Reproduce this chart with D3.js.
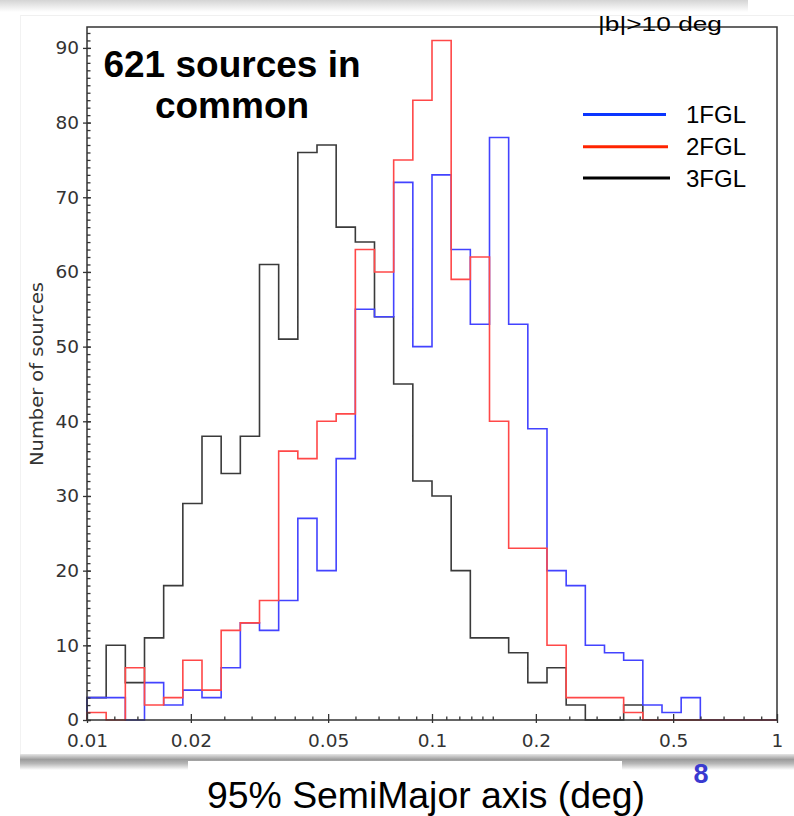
<!DOCTYPE html>
<html><head><meta charset="utf-8">
<script src="https://cdn.jsdelivr.net/npm/d3@7"></script>
<style>body{margin:0;background:#fff}svg{display:block}</style>
</head><body>
<svg id="c" width="794" height="816"></svg>
<script>
// ---- data ----
const seriesNames = ["1FGL", "2FGL", "3FGL"];
const fgl1 = [3,3,0,5,2,4,3,7,13,12, 16,27,20,35,55,54,72,50,73,63, 53,78,53,39,20,18,10,9,8,2, 1,3,0,0,0,0];
const fgl2 = [1,0,7,2,3,8,4,12,13,16, 36,35,40,41,63,60,75,83,91,59, 62,40,23,23,10,3,3,3,1,0, 0,0,0,0,0,0];
const fgl3 = [3,10,5,11,18,29,38,33,38,61, 51,76,77,66,64,54,45,32,30,20, 11,11,9,5,7,2,0,0,2,0, 0,0,0,0,0,0];
const xMajorTicks = [0.01, 0.02, 0.05, 0.1, 0.2, 0.5, 1];
const xTickLabels = ["0.01", "0.02", "0.05", "0.1", "0.2", "0.5", "1"];
const xMinorTicks = [0.012,0.014,0.025,0.03,0.035,0.04,0.045,0.06,0.07,0.08,0.09,0.11,0.12,0.13,0.14,0.15,0.25,0.3,0.35,0.4,0.45,0.6,0.7,0.8,0.9];
const yMajorTicks = [0,10,20,30,40,50,60,70,80,90];
const yTickLabels = ["0","10","20","30","40","50","60","70","80","90"];
const binsPerDecade = 18;
const xDomain = [0.01, 1];
const yMax = 92.8;
const titleLines = ["621 sources in", "common"];
const cutLabel = "|b|>10 deg";
const xTitle = "95% SemiMajor axis (deg)";
const yTitle = "Number of sources";
const pageNum = "8";

// ---- layout ----
const svg = d3.select("#c");
const L = 87, R = 777, T = 27, B = 720;
const x = d3.scaleLog().domain(xDomain).range([L, R]);
const y = d3.scaleLinear().domain([0, yMax]).range([B, T]);
const nb = Math.round(Math.log10(xDomain[1] / xDomain[0]) * binsPerDecade);
const edges = d3.range(nb + 1).map(i => xDomain[0] * Math.pow(10, i / binsPerDecade));

const defs = svg.append("defs");
const g1 = defs.append("linearGradient").attr("id","topsh").attr("x1",0).attr("y1",0).attr("x2",0).attr("y2",1);
g1.append("stop").attr("offset","0%").attr("stop-color","#d4d4d4");
g1.append("stop").attr("offset","100%").attr("stop-color","#ffffff");
const g2 = defs.append("linearGradient").attr("id","botsh").attr("x1",0).attr("y1",0).attr("x2",0).attr("y2",1);
g2.append("stop").attr("offset","0%").attr("stop-color","#e6e6e6");
g2.append("stop").attr("offset","35%").attr("stop-color","#9c9c9c");
g2.append("stop").attr("offset","60%").attr("stop-color","#b8b8b8");
g2.append("stop").attr("offset","100%").attr("stop-color","#ffffff");

// decorative slide shadows
svg.append("rect").attr("x",0).attr("y",0).attr("width",748).attr("height",12).attr("fill","url(#topsh)");
svg.append("line").attr("x1",20).attr("x2",794).attr("y1",15.5).attr("y2",15.5).attr("stroke","#f0f0f0");
svg.append("line").attr("x1",20.5).attr("x2",20.5).attr("y1",15).attr("y2",758).attr("stroke","#f2f2f2");
svg.append("rect").attr("x",20).attr("y",754).attr("width",774).attr("height",16).attr("fill","url(#botsh)");
svg.append("rect").attr("x",188).attr("y",761).attr("width",434).attr("height",55).attr("fill","#fff");

// ---- histograms ----
const line = d3.line().x(d => x(d[0])).y(d => y(d[1])).curve(d3.curveStepAfter);
function pts(vals) {
  const p = [[edges[0], 0]];
  vals.forEach((v, i) => p.push([edges[i], v]));
  p.push([edges[nb], vals[nb - 1]]);
  p.push([edges[nb], 0]);
  return p;
}
const plot = svg.append("g");
const series = [
  {name: seriesNames[2], vals: fgl3, color: "#3a3a3a"},
  {name: seriesNames[0], vals: fgl1, color: "#4343ff"},
  {name: seriesNames[1], vals: fgl2, color: "#ff4848"}
];
series.forEach(s => {
  plot.append("path").attr("d", line(pts(s.vals))).attr("fill","none")
    .attr("stroke", s.color).attr("stroke-width", 1.6);
});

// ---- axes ----
const axCol = "#333";
function styleAxis(g){ g.select(".domain").remove(); g.selectAll("line").attr("stroke", axCol).attr("stroke-width",1.3); }
svg.append("g").attr("transform",`translate(0,${B})`)
  .call(d3.axisBottom(x).tickValues(xMajorTicks).tickFormat((d,i)=>xTickLabels[i]).tickSizeInner(-6).tickSizeOuter(0).tickPadding(14))
  .call(styleAxis)
  .call(g => g.selectAll("text").attr("font-family","DejaVu Sans").attr("font-size",18.5).attr("fill",axCol));
svg.append("g").attr("transform",`translate(0,${B})`)
  .call(d3.axisBottom(x).tickValues(xMajorTicks).tickFormat("").tickSizeInner(3).tickSizeOuter(0)).call(styleAxis);
svg.append("g").attr("transform",`translate(0,${B})`)
  .call(d3.axisBottom(x).tickValues(xMinorTicks).tickFormat("").tickSizeInner(-3.5).tickSizeOuter(0)).call(styleAxis);

svg.append("g").attr("transform",`translate(${L},0)`)
  .call(d3.axisLeft(y).tickValues(yMajorTicks).tickFormat((d,i)=>yTickLabels[i]).tickSizeInner(-4).tickSizeOuter(0).tickPadding(8))
  .call(styleAxis)
  .call(g => g.selectAll("text").attr("font-family","DejaVu Sans").attr("font-size",18.5).attr("fill",axCol));
svg.append("g").attr("transform",`translate(${L},0)`)
  .call(d3.axisLeft(y).tickValues(yMajorTicks).tickFormat("").tickSizeInner(4).tickSizeOuter(0)).call(styleAxis);
svg.append("g").attr("transform",`translate(${L},0)`)
  .call(d3.axisLeft(y).tickValues(d3.range(0, Math.floor(yMax) + 1)).tickFormat("").tickSizeInner(-3.5).tickSizeOuter(0)).call(styleAxis);

// frame
svg.append("rect").attr("x",L).attr("y",T).attr("width",R-L).attr("height",B-T)
  .attr("fill","none").attr("stroke",axCol).attr("stroke-width",1.5);

// y title
svg.append("text").attr("transform",`translate(43,${(282+466)/2}) rotate(-90)`)
  .attr("text-anchor","middle").attr("font-family","DejaVu Sans").attr("font-size",17.5)
  .attr("fill",axCol).attr("textLength",184).attr("lengthAdjust","spacingAndGlyphs").text(yTitle);

// title
const tt = svg.append("text").attr("font-family","Liberation Sans, Arial").attr("font-weight","bold")
  .attr("font-size",37).attr("text-anchor","middle").attr("fill","#000");
tt.append("tspan").attr("x",232).attr("y",77).text(titleLines[0]);
tt.append("tspan").attr("x",232).attr("y",118).text(titleLines[1]);

// cut label
svg.append("text").attr("x",598).attr("y",31).attr("font-family","Liberation Sans, Arial")
  .attr("font-size",21).attr("fill","#000").attr("textLength",124).attr("lengthAdjust","spacingAndGlyphs").text(cutLabel);

// legend
const legend = [
  {name: seriesNames[0], color: "#0a35ff", y: 114.5, x2: 666},
  {name: seriesNames[1], color: "#ff2400", y: 146.7, x2: 668},
  {name: seriesNames[2], color: "#000000", y: 178, x2: 670}
];
legend.forEach(d => {
  svg.append("line").attr("x1",583).attr("x2",d.x2).attr("y1",d.y).attr("y2",d.y)
    .attr("stroke",d.color).attr("stroke-width",3);
  svg.append("text").attr("x",686).attr("y",d.y+8.5).attr("font-family","Liberation Sans, Arial")
    .attr("font-size",24).attr("fill","#000").text(d.name);
});

// x title & page number
svg.append("text").attr("x",426).attr("y",808).attr("text-anchor","middle")
  .attr("font-family","Liberation Sans, Arial").attr("font-size",37).attr("fill","#000")
  .attr("textLength",438).attr("lengthAdjust","spacingAndGlyphs").text(xTitle);
svg.append("text").attr("x",701).attr("y",783).attr("text-anchor","middle")
  .attr("font-family","Liberation Sans, Arial").attr("font-weight","bold").attr("font-size",27)
  .attr("fill","#3a3ad0").text(pageNum);
</script>
</body></html>
